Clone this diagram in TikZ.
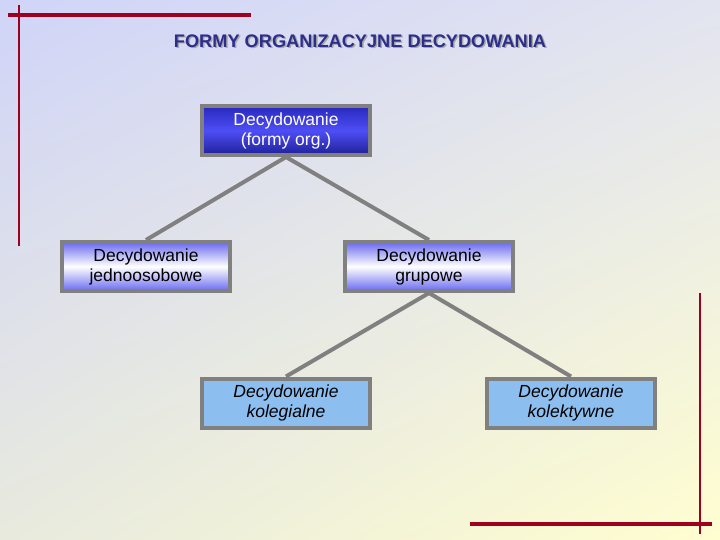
\documentclass[tikz,border=0pt]{standalone}
\usepackage{fontspec}
\setmainfont{Liberation Sans}
\usetikzlibrary{shadings}
\definecolor{bgTL}{RGB}{208,212,248}
\definecolor{bgTR}{RGB}{226,228,240}
\definecolor{bgBL}{RGB}{232,234,222}
\definecolor{bgBR}{RGB}{255,254,208}
\definecolor{redline}{RGB}{160,0,32}
\definecolor{boxgray}{RGB}{128,128,128}
\definecolor{titleblue}{RGB}{45,45,140}
\definecolor{topA}{RGB}{40,40,190}
\definecolor{topB}{RGB}{78,78,245}
\definecolor{midA}{RGB}{105,105,240}
\definecolor{lowfill}{RGB}{140,190,240}
\begin{document}
\begin{tikzpicture}[x=1pt,y=-1pt,
  boxbase/.style={draw=boxgray, line width=4pt, minimum width=168pt, minimum height=49pt,
    inner sep=0pt, align=center, font=\fontsize{17.5}{20}\selectfont},
  topbox/.style={boxbase, top color=topA, bottom color=topA!80!black, middle color=topB, text=white},
  midbox/.style={boxbase, top color=midA, bottom color=midA, middle color=white, text=black},
  lowbox/.style={boxbase, fill=lowfill, text=black, font=\fontsize{17.5}{20}\selectfont\itshape},
  conn/.style={draw=boxgray, line width=4pt},
  redthick/.style={draw=redline, line width=4.5pt},
  redthin/.style={draw=redline, line width=1.3pt}]
\useasboundingbox (0,0) rectangle (720,540);
\shade[upper left=bgTL, upper right=bgTR, lower left=bgBL, lower right=bgBR] (0,0) rectangle (720,540);
% decorative lines
\draw[redthick] (8,15) -- (251,15);
\draw[redthin] (19,5) -- (19,246);
\draw[redthick] (470,524) -- (712,524);
\draw[redthin] (700,293) -- (700,534);
% title
\node[text=gray!70, font=\fontsize{18.2}{20}\selectfont\bfseries] at (361.5,42.5) {FORMY ORGANIZACYJNE DECYDOWANIA};
\node (title) [text=titleblue, font=\fontsize{18.2}{20}\selectfont\bfseries] at (360,41) {FORMY ORGANIZACYJNE DECYDOWANIA};
% boxes
\node (root) [topbox] at (286,130.5) {Decydowanie\\(formy org.)};
\node (jed) [midbox] at (146,266.5) {Decydowanie\\jednoosobowe};
\node (gru) [midbox] at (429,266.5) {Decydowanie\\grupowe};
\node (kol) [lowbox] at (286,403) {Decydowanie\\kolegialne};
\node (kt) [lowbox] at (571,403) {Decydowanie\\kolektywne};
% connectors
\draw[conn] (root.south) -- (jed.north);
\draw[conn] (root.south) -- (gru.north);
\draw[conn] (gru.south) -- (kol.north);
\draw[conn] (gru.south) -- (kt.north);
\end{tikzpicture}
\end{document}
